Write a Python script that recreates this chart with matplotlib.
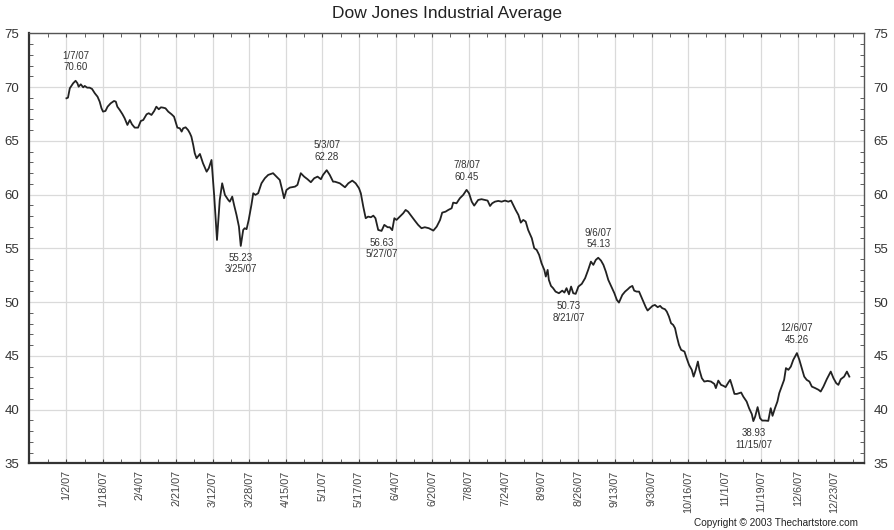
import matplotlib
matplotlib.use('Agg')
import matplotlib.pyplot as plt
import numpy as np

plt.rcParams['font.family'] = ['Liberation Sans', 'DejaVu Sans']

# x position is the trading session counted from 1/2/07 (12 sessions per labelled tick)
sessions = [
    0, 0.5, 1.1, 2.2, 3.0, 3.6, 4.0, 4.7, 5.5, 6.0, 6.8, 7.6, 8.4, 9.3, 10.2, 10.9,
    11.5, 12.0, 12.8, 13.5, 14.5, 15.6, 16.2, 16.7, 17.5, 18.4, 19.1, 20.0, 20.8, 21.5,
    22.4, 23.5, 24.4, 25.2, 26.3, 27.0, 27.9, 28.8, 29.5, 30.3, 31.0, 31.7, 32.5, 33.4,
    34.5, 35.3, 35.8, 36.4, 37.2, 37.8, 38.3, 39.1, 39.9, 40.5, 41.0, 41.6,
    42.1, 42.7, 43.8, 44.8, 46.0, 46.7, 47.6, 48.5, 49.4, 50.3, 51.1, 52.0, 53.1, 53.6,
    54.4, 55.0, 55.8, 56.6, 57.2, 58.0, 58.5, 59.1, 59.8, 60.7, 61.3, 62.0, 62.9, 64.0,
    65.1, 66.2, 67.8, 68.9, 70.0, 70.8, 71.4, 72.2, 73.3, 75.0, 75.8, 76.9, 78.0, 79.1,
    80.2, 81.3, 82.4, 83.5, 84.2, 85.4, 86.4, 87.5,
    88.1, 89.7, 91.4, 92.5, 93.8, 94.9, 96.0, 96.6, 97.4, 98.2, 99.0, 99.9, 100.7, 101.4,
    102.3, 103.4, 104.3, 105.4, 106.1, 106.9, 107.6, 108.3, 109.4, 110.5, 111.3, 112.1,
    113.3, 114.3, 115.4, 116.5, 117.6, 118.9, 120.4, 121.5, 122.6, 123.3, 124.4, 125.3,
    126.4, 126.9, 128.0, 129.1, 130.2, 131.3, 132.1, 133.0, 133.8,
    135.1, 136.2, 137.3, 138.2, 139.0, 139.7, 140.6, 141.7, 142.8, 143.9, 145.0, 145.9,
    146.6, 147.4, 148.3, 149.1, 149.9, 150.7, 151.5, 152.7, 153.5, 154.3, 155.1, 155.9,
    156.8, 157.3, 157.9, 158.3, 159.0, 159.7, 160.5, 161.6, 162.7, 163.4, 164.1, 164.9,
    165.6, 166.3, 167.1, 168.0, 169.1, 170.2, 171.2, 172.1, 172.9, 173.7, 174.5, 175.4,
    176.2, 177.0, 177.8, 178.7, 179.8, 180.6, 181.3,
    182.4, 183.3, 184.2, 184.9, 185.7, 186.3, 187.1, 187.9, 188.5, 189.3, 190.1, 190.7,
    191.5, 192.3, 193.1, 194.0, 194.8, 195.5, 196.4, 197.0, 197.7, 198.4, 199.1, 199.7,
    200.3, 201.0, 201.7, 202.8, 203.5, 204.3, 205.2, 205.8, 206.5, 207.2, 207.7, 208.5,
    209.3, 210.4, 211.5, 212.6, 213.1, 213.9, 214.8, 215.6, 216.3, 217.2, 217.8, 218.5,
    219.2, 220.0, 220.7, 221.4, 222.1, 223.2, 224.0, 224.9, 225.4, 226.0, 226.8, 227.6,
    228.3,
    229.3, 230.3, 231.1, 231.7, 232.5, 233.3, 233.9, 234.7, 235.5, 236.1, 236.9, 237.7,
    238.5, 239.7, 240.5, 241.3, 242.1, 242.9, 243.8, 244.6, 245.7, 246.8, 247.5, 248.4,
    249.5, 250.8, 251.7, 252.6, 253.3, 254.1, 255.2, 256.1, 256.9,
]
values = [
    68.97, 69.03, 69.90, 70.37, 70.60, 70.37, 70.05, 70.27, 69.99, 70.12, 69.96, 69.96,
    69.84, 69.44, 69.12, 68.66, 68.04, 67.73, 67.79, 68.19, 68.50, 68.72, 68.66, 68.19,
    67.88, 67.48, 67.11, 66.49, 66.95, 66.55, 66.24, 66.24, 66.86, 66.95, 67.48, 67.58,
    67.42, 67.79, 68.19, 67.95, 68.13, 68.10, 68.04, 67.73, 67.48, 67.26, 66.80, 66.24,
    66.18, 65.87, 66.18, 66.27, 66.02, 65.72, 65.40, 64.63,
    63.86, 63.39, 63.79, 62.93, 62.14, 62.46, 63.23, 59.82, 55.79, 59.51, 61.06, 59.98,
    59.51, 59.35, 59.82, 59.05, 58.12, 57.03, 55.23, 56.72, 56.88, 56.79, 57.65, 59.05,
    60.13, 59.98, 60.13, 61.06, 61.53, 61.84, 62.00, 61.68, 61.37, 60.44, 59.67, 60.44,
    60.66, 60.75, 60.91, 62.00, 61.68, 61.44, 61.16, 61.53, 61.68, 61.44, 61.84, 62.28,
    61.84, 61.21,
    61.21, 61.06, 60.69, 61.06, 61.31, 61.06, 60.60, 60.13, 58.89, 57.81, 57.96, 57.90,
    58.05, 57.81, 56.72, 56.63, 57.19, 56.97, 56.97, 56.70, 57.81, 57.65, 57.96, 58.27,
    58.58, 58.42, 57.96, 57.59, 57.19, 56.88, 56.97, 56.88, 56.66, 57.03, 57.65, 58.33,
    58.42, 58.58, 58.74, 59.26, 59.20, 59.67, 59.98, 60.45, 60.13, 59.35, 58.98,
    59.51, 59.58, 59.51, 59.45, 58.95, 59.20, 59.35, 59.42, 59.35, 59.45, 59.35, 59.45,
    59.05, 58.58, 58.12, 57.40, 57.65, 57.50, 56.72, 55.95, 55.02, 54.86, 54.40, 53.62,
    53.00, 52.38, 53.00, 52.07, 51.51, 51.30, 50.98, 50.83, 51.07, 50.89, 51.30, 50.73,
    51.45, 50.83, 50.77, 51.45, 51.70, 52.23, 53.00, 53.77, 53.47, 53.93, 54.13, 53.87,
    53.47, 52.84, 52.07, 51.51, 50.83, 50.21, 49.96,
    50.67, 50.98, 51.20, 51.39, 51.51, 51.07, 50.98, 50.98, 50.58, 50.05, 49.53, 49.22,
    49.44, 49.65, 49.74, 49.53, 49.65, 49.44, 49.34, 49.12, 48.66, 48.04, 47.88, 47.58,
    46.80, 46.02, 45.56, 45.40, 44.79, 44.16, 43.70, 43.07, 43.70, 44.47, 43.70, 42.92,
    42.61, 42.67, 42.61, 42.39, 42.00, 42.70, 42.30, 42.21, 42.09, 42.52, 42.77, 42.14,
    41.46, 41.46, 41.53, 41.59, 41.21, 40.75, 40.13, 39.58, 38.93, 39.35, 40.23, 39.20,
    38.98,
    38.98, 38.95, 40.13, 39.42, 40.13, 40.75, 41.53, 42.14, 42.77, 43.86, 43.70, 44.00,
    44.63, 45.26, 44.63, 43.86, 43.07, 42.77, 42.61, 42.14, 42.00, 41.84, 41.68, 42.14,
    42.83, 43.54, 42.92, 42.46, 42.30, 42.83, 43.07, 43.54, 43.07,
]

tick_labels = ['1/2/07', '1/18/07', '2/4/07', '2/21/07', '3/12/07', '3/28/07', '4/15/07',
               '5/1/07', '5/17/07', '6/4/07', '6/20/07', '7/8/07', '7/24/07', '8/9/07',
               '8/26/07', '9/13/07', '9/30/07', '10/16/07', '11/1/07', '11/19/07',
               '12/6/07', '12/23/07']

# (session, date, 'hi'/'lo')
notes = [
    (3.0, '1/7/07', 'hi'), (57.2, '3/25/07', 'lo'), (85.4, '5/3/07', 'hi'),
    (103.4, '5/27/07', 'lo'), (131.3, '7/8/07', 'hi'), (164.9, '8/21/07', 'lo'),
    (174.5, '9/6/07', 'hi'), (225.4, '11/15/07', 'lo'), (239.7, '12/6/07', 'hi'),
]

fig = plt.figure(figsize=(8.94, 5.30), dpi=100)
ax = fig.add_axes([0.0324, 0.1258, 0.934, 0.811])

ax.plot(sessions, values, color='#222222', linewidth=1.3, zorder=3)

ax.set_xlim(-12.3, 261.7)
ax.set_ylim(35, 75)
ax.set_xticks(np.arange(len(tick_labels)) * 12)
ax.set_xticklabels(tick_labels, rotation=90, fontsize=7.8, color='#333333')
ax.set_xticks(np.arange(-6, 262, 12), minor=True)
ax.set_yticks(np.arange(35, 76, 5))
ax.set_yticks(np.arange(35, 76, 1), minor=True)
ax.grid(True, which='major', color='#dadada', linewidth=0.9, zorder=0)
ax.tick_params(axis='both', which='both', direction='in', colors='#444444',
               top=True, right=True, labelright=True)
ax.tick_params(axis='x', which='major', length=3, pad=5)
ax.tick_params(axis='x', which='minor', length=3)
ax.tick_params(axis='y', which='major', length=0, pad=7, labelsize=9.5, labelcolor='#333333')
ax.tick_params(axis='y', which='minor', length=3)
for side in ['left', 'bottom']:
    ax.spines[side].set_linewidth(1.6)
    ax.spines[side].set_color('#333333')
for side in ['top', 'right']:
    ax.spines[side].set_linewidth(1.0)
    ax.spines[side].set_color('#555555')

s = np.array(sessions)
for pos, date, kind in notes:
    j = int(np.argmin(np.abs(s - pos)))
    if kind == 'hi':
        ax.annotate(f'{date}\n{values[j]:.2f}', (sessions[j], values[j]), xytext=(0, 6),
                    textcoords='offset points', ha='center', va='bottom',
                    fontsize=7, color='#333333', linespacing=1.2)
    else:
        ax.annotate(f'{values[j]:.2f}\n{date}', (sessions[j], values[j]), xytext=(0, -5),
                    textcoords='offset points', ha='center', va='top',
                    fontsize=7, color='#333333', linespacing=1.2)

fig.text(0.5, 0.975, 'Dow Jones Industrial Average', ha='center', va='center',
         fontsize=12.5, color='#222222')
fig.text(0.96, 0.013, 'Copyright \u00a9 2003 Thechartstore.com', ha='right', va='center',
         fontsize=7.2, color='#222222')

fig.savefig('out.png', dpi=100)
